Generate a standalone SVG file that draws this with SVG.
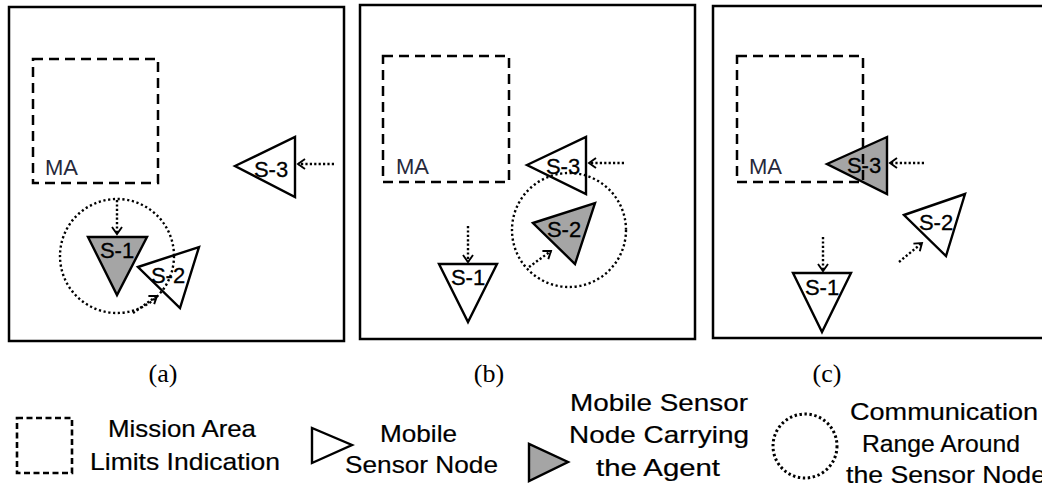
<svg xmlns="http://www.w3.org/2000/svg" width="1042" height="490" viewBox="0 0 1042 490">
<style>
.panel{fill:none;stroke:#000;stroke-width:2.5}
.ma{fill:none;stroke:#000;stroke-width:2.5;stroke-dasharray:10 6}
.tri{stroke:#000;stroke-width:2.4;stroke-linejoin:miter}
.white{fill:#fff}
.gray{fill:#a5a5a5}
.range{fill:none;stroke:#000;stroke-width:2.4;stroke-dasharray:2.2 2.6}
.mv{fill:none;stroke:#000;stroke-width:2.4;stroke-dasharray:2.2 2.2}
.lbl{font-family:"Liberation Sans",Arial,sans-serif;font-size:22px;fill:#000;stroke:#000;stroke-width:0.3;text-anchor:middle}
.malbl{font-family:"Liberation Sans",Arial,sans-serif;font-size:22px;fill:#26283a}
.cap{font-family:"Liberation Serif","Times New Roman",serif;font-size:26px;fill:#000;text-anchor:middle}
.leg{font-family:"Liberation Sans",Arial,sans-serif;font-size:24px;fill:#000;stroke:#000;stroke-width:0.2}
</style>
<defs>
<marker id="arr" markerUnits="userSpaceOnUse" viewBox="-9 -7 11 14" refX="0" refY="0" markerWidth="11" markerHeight="14" orient="auto">
<path d="M-7,-5 L0,0 L-7,5" fill="none" stroke="#000" stroke-width="1.9"/>
</marker>
</defs>

<g id="panel-a">
<rect class="panel" x="9" y="7" width="335" height="334"/>
<g id="a-S1"><polygon class="tri gray" points="88,237 147,237 117,295"/><text class="lbl" x="117" y="258">S-1</text></g>
<g id="a-S2"><polygon class="tri white" points="138,267 199,247 180,308"/><text class="lbl" x="168" y="283">S-2</text></g>
<g id="a-S3"><polygon class="tri white" points="235,166 295,137 295,197"/><text class="lbl" x="271" y="177">S-3</text></g>
<g id="a-MA"><rect class="ma" x="33" y="59" width="125" height="124"/><text class="malbl" x="45" y="175">MA</text></g>
<circle id="a-range" class="range" cx="117" cy="256" r="57"/>
</g>

<g id="panel-b">
<rect class="panel" x="360" y="5" width="335" height="334"/>
<g id="b-S1"><polygon class="tri white" points="439,264 497,264 468,322"/><text class="lbl" x="468" y="285">S-1</text></g>
<g id="b-S2"><polygon class="tri gray" points="533,223 595,203 575,264"/><text class="lbl" x="564" y="237">S-2</text></g>
<g id="b-S3"><polygon class="tri white" points="527,165 586,137 586,194"/><text class="lbl" x="563" y="174">S-3</text></g>
<g id="b-MA"><rect class="ma" x="383" y="56" width="126" height="126"/><text class="malbl" x="396" y="174">MA</text></g>
<circle id="b-range" class="range" cx="569" cy="230" r="57"/>
</g>

<g id="panel-c">
<rect class="panel" x="713" y="6" width="345" height="332"/>
<g id="c-S1"><polygon class="tri white" points="793,273 851,273 822,332"/><text class="lbl" x="822" y="295">S-1</text></g>
<g id="c-S2"><polygon class="tri white" points="904,215 965,194 946,256"/><text class="lbl" x="936" y="230">S-2</text></g>
<g id="c-S3"><polygon class="tri gray" points="827,164 887,137 887,194"/><text class="lbl" x="864" y="173">S-3</text></g>
<g id="c-MA"><rect class="ma" x="737" y="56" width="126" height="126"/><text class="malbl" x="749" y="174">MA</text></g>
</g>

<g id="connectors">
<line class="mv" x1="334" y1="164" x2="298" y2="164" marker-end="url(#arr)"/>
<line class="mv" x1="117" y1="200" x2="117" y2="234" marker-end="url(#arr)"/>
<line class="mv" x1="133" y1="313" x2="157" y2="296" marker-end="url(#arr)"/>
<line class="mv" x1="624" y1="163" x2="589" y2="163" marker-end="url(#arr)"/>
<line class="mv" x1="468" y1="226" x2="468" y2="262" marker-end="url(#arr)"/>
<line class="mv" x1="529" y1="267" x2="551" y2="251" marker-end="url(#arr)"/>
<line class="mv" x1="924" y1="163" x2="890" y2="163" marker-end="url(#arr)"/>
<line class="mv" x1="823" y1="237" x2="823" y2="271" marker-end="url(#arr)"/>
<line class="mv" x1="899" y1="262" x2="922" y2="243" marker-end="url(#arr)"/>
</g>

<g id="captions">
<text class="cap" x="163" y="382">(a)</text>
<text class="cap" x="489" y="382">(b)</text>
<text class="cap" x="827" y="382">(c)</text>
</g>

<g id="legend">
<g id="leg-ma">
<rect x="17" y="418" width="55" height="55" fill="none" stroke="#000" stroke-width="2.6" stroke-dasharray="6 3.5"/>
<text class="leg" x="108" y="437" textLength="148" lengthAdjust="spacingAndGlyphs">Mission Area</text>
<text class="leg" x="90" y="470" textLength="190" lengthAdjust="spacingAndGlyphs">Limits Indication</text>
</g>
<g id="leg-node">
<polygon class="tri white" points="312,428 312,463 352,445" stroke-width="2.8"/>
<text class="leg" x="380" y="442" textLength="77" lengthAdjust="spacingAndGlyphs">Mobile</text>
<text class="leg" x="345" y="473" textLength="153" lengthAdjust="spacingAndGlyphs">Sensor Node</text>
</g>
<g id="leg-agent">
<polygon class="tri gray" points="529,444 529,481 568,462" stroke-width="2.8"/>
<text class="leg" x="570" y="411" textLength="178" lengthAdjust="spacingAndGlyphs">Mobile Sensor</text>
<text class="leg" x="569" y="443" textLength="180" lengthAdjust="spacingAndGlyphs">Node Carrying</text>
<text class="leg" x="596" y="476" textLength="124" lengthAdjust="spacingAndGlyphs">the Agent</text>
</g>
<g id="leg-range">
<circle cx="805" cy="446" r="32" fill="none" stroke="#000" stroke-width="3" stroke-dasharray="2.4 2.6"/>
<text class="leg" x="850" y="420" textLength="188" lengthAdjust="spacingAndGlyphs">Communication</text>
<text class="leg" x="862" y="452" textLength="158" lengthAdjust="spacingAndGlyphs">Range Around</text>
<text class="leg" x="846" y="483" textLength="200" lengthAdjust="spacingAndGlyphs">the Sensor Node</text>
</g>
</g>
</svg>
